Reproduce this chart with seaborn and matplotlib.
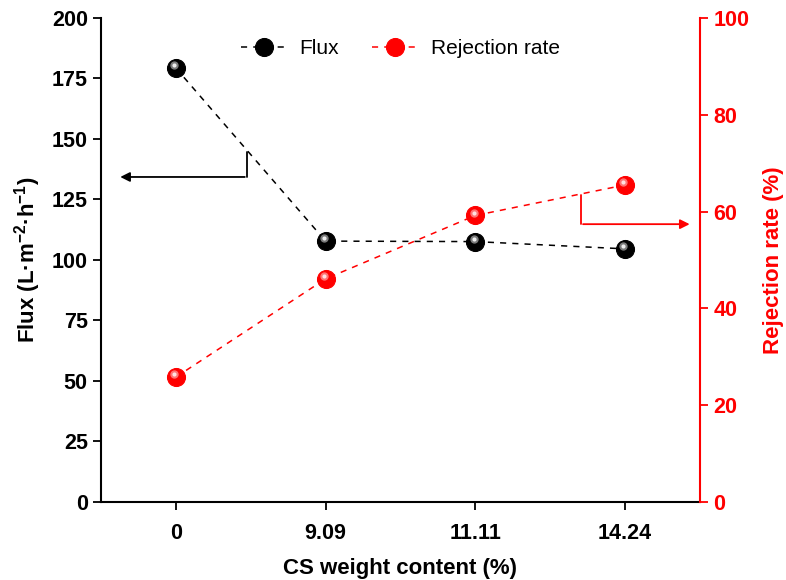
import matplotlib
matplotlib.use("Agg")
import matplotlib.pyplot as plt
import seaborn as sns
import pandas as pd

# data
cs_content = ["0", "9.09", "11.11", "14.24"]
flux = [179.3, 107.8, 107.6, 104.6]
rejection = [25.8, 46.1, 59.2, 65.5]

sns.set_style("ticks")
plt.rcParams['font.family'] = ['Liberation Sans', 'DejaVu Sans']
plt.rcParams['mathtext.fontset'] = 'custom'
plt.rcParams['mathtext.bf'] = 'Liberation Sans:bold'
plt.rcParams['mathtext.rm'] = 'Liberation Sans:bold'
plt.rcParams['mathtext.default'] = 'bf'
plt.rcParams['text.color'] = 'black'
plt.rcParams['axes.labelcolor'] = 'black'
plt.rcParams['xtick.color'] = 'black'
plt.rcParams['ytick.color'] = 'black'

df = pd.DataFrame({"pos": range(len(cs_content)), "flux": flux, "rej": rejection})

fig = plt.figure(figsize=(7.86, 5.8), dpi=100)
ax = fig.add_axes([0.1285, 0.1345, 0.762, 0.8345])
ax2 = ax.twinx()

sns.lineplot(data=df, x="pos", y="flux", ax=ax, color="black", linestyle=(0, (4, 4)),
             linewidth=1.1, marker="o", markersize=13, markeredgecolor="black",
             markerfacecolor="black", label="Flux", legend=False)
sns.lineplot(data=df, x="pos", y="rej", ax=ax2, color="red", linestyle=(0, (4, 4)),
             linewidth=1.1, marker="o", markersize=13, markeredgecolor="red",
             markerfacecolor="red", label="Rejection rate", legend=False)
# highlight for shiny spheres
ax.plot(df["pos"] - 0.012, df["flux"] + 1.2, "o", ms=6, color="#888888", mec="none", alpha=0.9)
ax.plot(df["pos"] - 0.012, df["flux"] + 1.2, "o", ms=3, color="#eeeeee", mec="none")
ax2.plot(df["pos"] - 0.012, df["rej"] + 0.6, "o", ms=6, color="#ff8080", mec="none", alpha=0.9)
ax2.plot(df["pos"] - 0.012, df["rej"] + 0.6, "o", ms=3, color="#ffe0e0", mec="none")

ax.set_xlim(-0.5, 3.5)
ax.set_ylim(0, 200)
ax2.set_ylim(0, 100)
ax.set_xticks(range(len(cs_content)))
ax.set_xticklabels(cs_content)
ax.set_yticks(range(0, 201, 25))
ax2.set_yticks(range(0, 101, 20))

ax.set_xlabel("CS weight content (%)", fontsize=16, fontweight="bold", labelpad=10)
ax.set_ylabel("Flux (L·m$^{-2}$·h$^{-1}$)", fontsize=16, fontweight="bold", labelpad=6)
ax2.set_ylabel("Rejection rate (%)", fontsize=16, fontweight="bold", color="red", labelpad=10)

for a in (ax, ax2):
    a.spines["top"].set_visible(False)
ax.spines["right"].set_visible(False)
ax2.spines["left"].set_visible(False)
ax2.spines["bottom"].set_visible(False)
ax.spines["left"].set_linewidth(1.5)
ax.spines["left"].set_color("black")
ax.spines["bottom"].set_linewidth(1.5)
ax.spines["bottom"].set_color("black")
ax2.spines["right"].set_color("red")
ax2.spines["right"].set_linewidth(1.5)

ax.tick_params(axis="both", direction="out", length=6, width=1.3, labelsize=15.5)
ax2.tick_params(axis="y", direction="out", length=6, width=1.3, labelsize=15.5,
                colors="red")
for lab in ax.get_xticklabels() + ax.get_yticklabels() + ax2.get_yticklabels():
    lab.set_fontweight("bold")
ax.tick_params(axis="x", pad=9)

# bent arrows pointing to the axes
ax.plot([0.473, 0.473], [144.6, 134.3], color="black", lw=1.3)
ax.annotate("", xy=(-0.39, 134.3), xytext=(0.479, 134.3),
            arrowprops=dict(arrowstyle="-|>", color="black", lw=1.3, mutation_scale=14))
ax2.plot([2.707, 2.707], [63.4, 57.4], color="red", lw=1.3)
ax2.annotate("", xy=(3.45, 57.4), xytext=(2.701, 57.4),
             arrowprops=dict(arrowstyle="-|>", color="red", lw=1.3, mutation_scale=14))

h1, l1 = ax.get_legend_handles_labels()
h2, l2 = ax2.get_legend_handles_labels()
ax2.legend(h1 + h2, l1 + l2, loc="upper center", bbox_to_anchor=(0.5, 0.995), ncol=2,
           frameon=False, fontsize=15, handlelength=2.2, columnspacing=1.6,
           handletextpad=0.6)

fig.savefig("out.png", dpi=100)
